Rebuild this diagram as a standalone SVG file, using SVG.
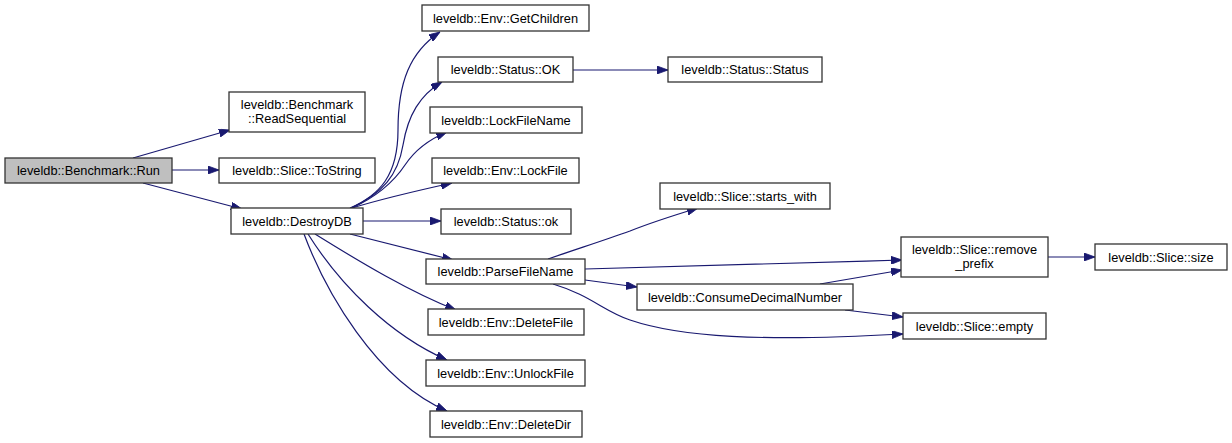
<svg xmlns="http://www.w3.org/2000/svg" width="1232" height="443" viewBox="0 0 1232 443">
<style>
.n rect{fill:#ffffff;stroke:#333333;stroke-width:1.3}
.n.cur rect{fill:#bfbfbf}
.n text{font-family:"Liberation Sans",Arial,sans-serif;font-size:12.8px;fill:#000;text-anchor:middle}
.e path{fill:none;stroke:#191970;stroke-width:1.2;marker-end:url(#ah)}
</style>
<defs>
<marker id="ah" markerUnits="userSpaceOnUse" markerWidth="11" markerHeight="8" refX="11" refY="4" orient="auto">
<path d="M0,0 L11,4 L0,8 z" fill="#191970" stroke="#191970" stroke-width="0.8"/>
</marker>
</defs>
<rect width="1232" height="443" fill="#ffffff"/>
<g id="edges" class="e">
<path d="M133,158 L230,130"/>
<path d="M172,170 L219,170"/>
<path d="M143,183 L242,209"/>
<path d="M350,208 C380,195 398,175 398,130 C398,82 410,52 440,32"/>
<path d="M351,208 C383,193 398,175 403,145 C408,115 420,95 442,82"/>
<path d="M352,208 C378,196 395,180 405,165 C415,150 430,139 447,132"/>
<path d="M352,208 C385,198 420,190 452,183"/>
<path d="M363,221 L441,221"/>
<path d="M350,234 L453,260"/>
<path d="M315,234 C360,262 410,292 456,310"/>
<path d="M308,234 C340,285 390,335 447,360"/>
<path d="M304,234 C325,290 375,380 447,411"/>
<path d="M573,70 L668,70"/>
<path d="M548,259 C580,248 605,240 630,231 C650,223 675,215 698,208"/>
<path d="M585,269 C700,266 800,263 902,260"/>
<path d="M585,280 L637,287"/>
<path d="M553,284 C590,295 605,312 630,320 C680,337 760,342 903,334"/>
<path d="M820,284 L902,270"/>
<path d="M845,310 L903,317"/>
<path d="M1048,257 L1095,257"/>
</g>
<g id="node-run" class="n cur"><rect x="5" y="158" width="167" height="25"/><text x="88.5" y="175">leveldb::Benchmark::Run</text></g>
<g id="node-readseq" class="n"><rect x="229" y="92" width="136" height="40"/><text x="297" y="109">leveldb::Benchmark</text><text x="297" y="123">::ReadSequential</text></g>
<g id="node-tostring" class="n"><rect x="219" y="158" width="156" height="25"/><text x="297" y="175">leveldb::Slice::ToString</text></g>
<g id="node-destroydb" class="n"><rect x="231" y="208" width="132" height="26"/><text x="297" y="225.5">leveldb::DestroyDB</text></g>
<g id="node-getchildren" class="n"><rect x="422" y="5" width="167" height="26"/><text x="505.5" y="22.5">leveldb::Env::GetChildren</text></g>
<g id="node-statusok" class="n"><rect x="438" y="57" width="135" height="25"/><text x="505.5" y="74">leveldb::Status::OK</text></g>
<g id="node-statusstatus" class="n"><rect x="668" y="57" width="154" height="25"/><text x="745" y="74">leveldb::Status::Status</text></g>
<g id="node-lockfilename" class="n"><rect x="430" y="107" width="152" height="26"/><text x="506" y="124.5">leveldb::LockFileName</text></g>
<g id="node-lockfile" class="n"><rect x="432" y="158" width="147" height="25"/><text x="505.5" y="175">leveldb::Env::LockFile</text></g>
<g id="node-statusok2" class="n"><rect x="441" y="209" width="130" height="25"/><text x="506" y="226">leveldb::Status::ok</text></g>
<g id="node-startswith" class="n"><rect x="660" y="183" width="170" height="26"/><text x="745" y="200.5">leveldb::Slice::starts_with</text></g>
<g id="node-parsefilename" class="n"><rect x="426" y="259" width="159" height="25"/><text x="505.5" y="276">leveldb::ParseFileName</text></g>
<g id="node-consume" class="n"><rect x="637" y="284" width="216" height="26"/><text x="745" y="301.5">leveldb::ConsumeDecimalNumber</text></g>
<g id="node-deletefile" class="n"><rect x="428" y="309" width="156" height="26"/><text x="506" y="326.5">leveldb::Env::DeleteFile</text></g>
<g id="node-unlockfile" class="n"><rect x="426" y="360" width="159" height="26"/><text x="505.5" y="377.5">leveldb::Env::UnlockFile</text></g>
<g id="node-deletedir" class="n"><rect x="430" y="411" width="152" height="26"/><text x="506" y="428.5">leveldb::Env::DeleteDir</text></g>
<g id="node-removeprefix" class="n"><rect x="901" y="237" width="147" height="40"/><text x="974.5" y="253.5">leveldb::Slice::remove</text><text x="974.5" y="267.5">_prefix</text></g>
<g id="node-size" class="n"><rect x="1095" y="244" width="132" height="26"/><text x="1161" y="261.5">leveldb::Slice::size</text></g>
<g id="node-empty" class="n"><rect x="903" y="313" width="143" height="26"/><text x="974.5" y="330.5">leveldb::Slice::empty</text></g>
</svg>
